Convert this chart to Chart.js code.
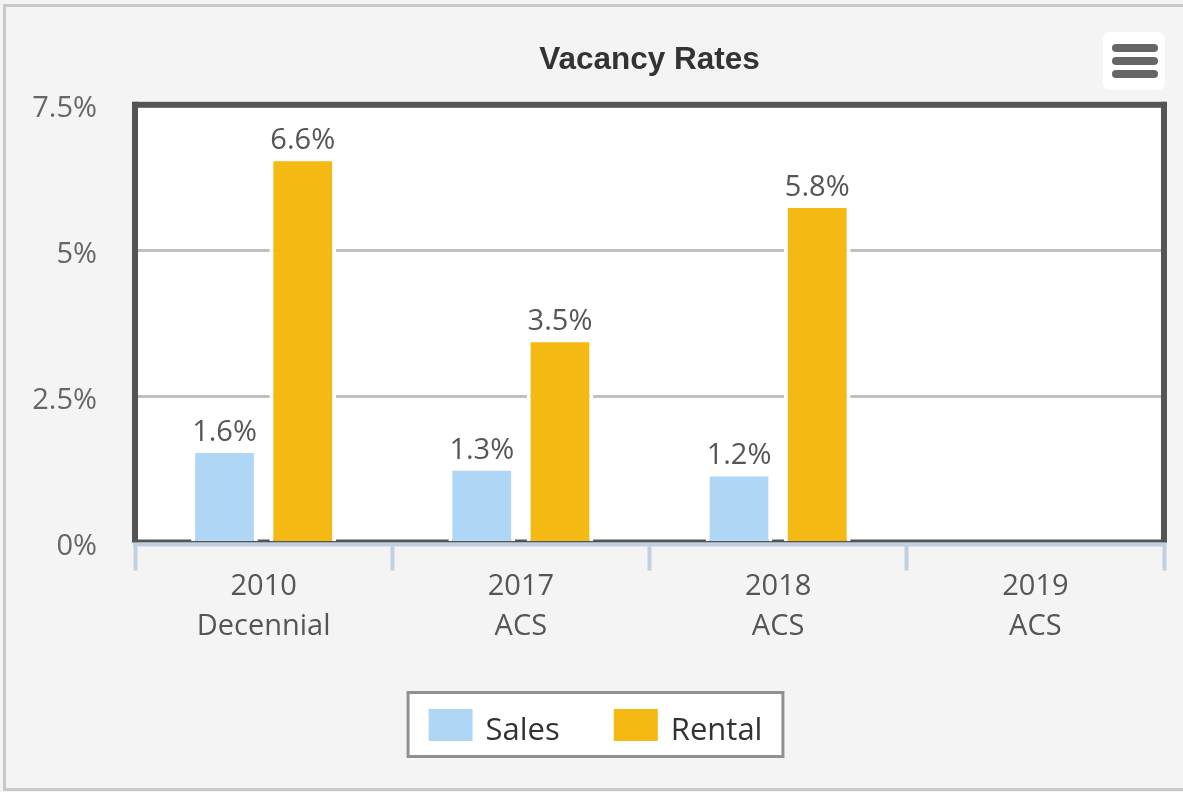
<!DOCTYPE html>
<html>
<head>
<meta charset="utf-8">
<title>Vacancy Rates</title>
<script src="https://cdn.jsdelivr.net/npm/chart.js@4.4.1/dist/chart.umd.min.js"></script>
<style>
  html, body { margin: 0; padding: 0; background: #f4f4f4; }
  #frame {
    position: absolute; left: 3px; top: 4px; width: 1200px; height: 787px;
    border: 3px solid #cbc8c8; border-right: none; box-sizing: border-box;
  }
  #chart { position: absolute; left: 0; top: 0; }
  #menu {
    position: absolute; left: 1103px; top: 32px; width: 62px; height: 58px;
    background: #fff; border-radius: 7px;
  }
  #menu span {
    position: absolute; left: 9px; width: 46px; height: 8px;
    border-radius: 4px; background: #666;
  }
</style>
</head>
<body>
<div id="frame"></div>
<canvas id="chart" width="1183" height="792"></canvas>
<div id="menu"><span style="top:12px"></span><span style="top:25px"></span><span style="top:38px"></span></div>
<script>
// data
const categories = [['2010', 'Decennial'], ['2017', 'ACS'], ['2018', 'ACS'], ['2019', 'ACS']];
const salesRates = [1.6, 1.3, 1.2, null];
const rentalRates = [6.6, 3.5, 5.8, null];
const yTicks = [0, 2.5, 5, 7.5];

const SALES_COLOR = '#afd6f5';
const RENTAL_COLOR = '#f5b914';
const FONT = '"Open Sans", "Noto Sans", sans-serif';

// white plot background, dark frame, axis line, value labels and boxed legend
const plotDecor = {
  id: 'plotDecor',
  beforeDraw(chart) {
    const { ctx, chartArea: a } = chart;
    ctx.save();
    ctx.fillStyle = '#ffffff';
    ctx.fillRect(a.left, a.top, a.right - a.left, a.bottom - a.top);
    ctx.restore();
  },
  beforeDatasetsDraw(chart) {
    const { ctx, chartArea: a } = chart;
    const w = a.right - a.left;
    const h = a.bottom - a.top;
    ctx.save();
    ctx.fillStyle = '#545454';
    ctx.fillRect(a.left - 3, a.top - 3, w + 6, 6);
    ctx.fillRect(a.left - 3, a.top - 3, 6, h + 3);
    ctx.fillRect(a.right - 3, a.top - 3, 6, h + 3);
    ctx.fillRect(a.left - 3, a.bottom - 3, w + 6, 3);
    ctx.restore();
  },
  afterDatasetsDraw(chart) {
    const { ctx, chartArea: a } = chart;
    ctx.save();
    ctx.fillStyle = '#c0d0e0';
    ctx.fillRect(a.left - 2, a.bottom, a.right - a.left + 4, 4);

    ctx.font = '29px ' + FONT;
    ctx.fillStyle = '#555555';
    ctx.textAlign = 'center';
    ctx.textBaseline = 'alphabetic';
    chart.data.datasets.forEach((ds, i) => {
      chart.getDatasetMeta(i).data.forEach((bar, j) => {
        const v = ds.data[j];
        if (v == null) return;
        ctx.fillText(v.toFixed(1) + '%', bar.x, bar.y - 8);
      });
    });
    ctx.restore();
  },
  afterDraw(chart) {
    const ctx = chart.ctx;
    ctx.save();
    ctx.font = '31px ' + FONT;
    const items = chart.data.datasets.map(ds => ({
      text: ds.label, color: ds.backgroundColor, w: ctx.measureText(ds.label).width
    }));
    const swatchW = 44, swatchH = 32, textGap = 13, itemGap = 54, sidePad = 22;
    const inner = items.reduce((s, it) => s + swatchW + textGap + it.w, 0) + itemGap * (items.length - 1);
    const boxW = inner + sidePad * 2;
    const boxH = 67;
    const boxLeft = 595.5 - boxW / 2;
    const boxTop = 691;

    ctx.fillStyle = '#ffffff';
    ctx.fillRect(boxLeft, boxTop, boxW, boxH);
    ctx.strokeStyle = '#909090';
    ctx.lineWidth = 3;
    ctx.strokeRect(boxLeft + 1.5, boxTop + 1.5, boxW - 3, boxH - 3);

    let x = boxLeft + sidePad;
    ctx.textAlign = 'left';
    ctx.textBaseline = 'alphabetic';
    items.forEach(it => {
      ctx.fillStyle = it.color;
      ctx.fillRect(x, boxTop + 18, swatchW, swatchH);
      ctx.fillStyle = '#333333';
      ctx.fillText(it.text, x + swatchW + textGap, boxTop + 49);
      x += swatchW + textGap + it.w + itemGap;
    });
    ctx.restore();
  }
};

new Chart(document.getElementById('chart'), {
  type: 'bar',
  data: {
    labels: categories,
    datasets: [
      {
        label: 'Sales',
        data: salesRates,
        backgroundColor: SALES_COLOR,
        borderColor: '#ffffff',
        borderWidth: 4
      },
      {
        label: 'Rental',
        data: rentalRates,
        backgroundColor: RENTAL_COLOR,
        borderColor: '#ffffff',
        borderWidth: 4
      }
    ]
  },
  options: {
    responsive: false,
    animation: false,
    categoryPercentage: 0.608,
    barPercentage: 0.853,
    layout: { padding: { top: 0, right: 19, bottom: 0, left: 0 } },
    plugins: {
      legend: { display: false },
      tooltip: { enabled: false },
      title: {
        display: true,
        text: 'Vacancy Rates',
        fullSize: false,
        color: '#333333',
        font: { family: '"Liberation Sans", Arial, sans-serif', size: 31.5, weight: 'bold' },
        lineHeight: 1.2,
        padding: { top: 41, bottom: 26 }
      }
    },
    scales: {
      y: {
        min: 0,
        max: 7.5,
        afterBuildTicks: s => { s.ticks = yTicks.map(v => ({ value: v })); },
        afterFit: s => { s.width = 135; },
        border: { display: false },
        grid: { color: '#c0c0c0', lineWidth: 3, drawTicks: false },
        ticks: {
          padding: 38,
          labelOffset: 4,
          color: '#666666',
          font: { family: FONT, size: 29 },
          callback: v => v + '%'
        }
      },
      x: {
        afterFit: s => { s.height = 249.5; },
        border: { display: false },
        grid: {
          offset: true,
          drawOnChartArea: false,
          tickLength: 28,
          tickWidth: 4,
          tickColor: '#c0d0e0'
        },
        ticks: {
          padding: -3,
          color: '#555555',
          font: { family: FONT, size: 29, lineHeight: 1.36 }
        }
      }
    }
  },
  plugins: [plotDecor]
});
</script>
</body>
</html>
